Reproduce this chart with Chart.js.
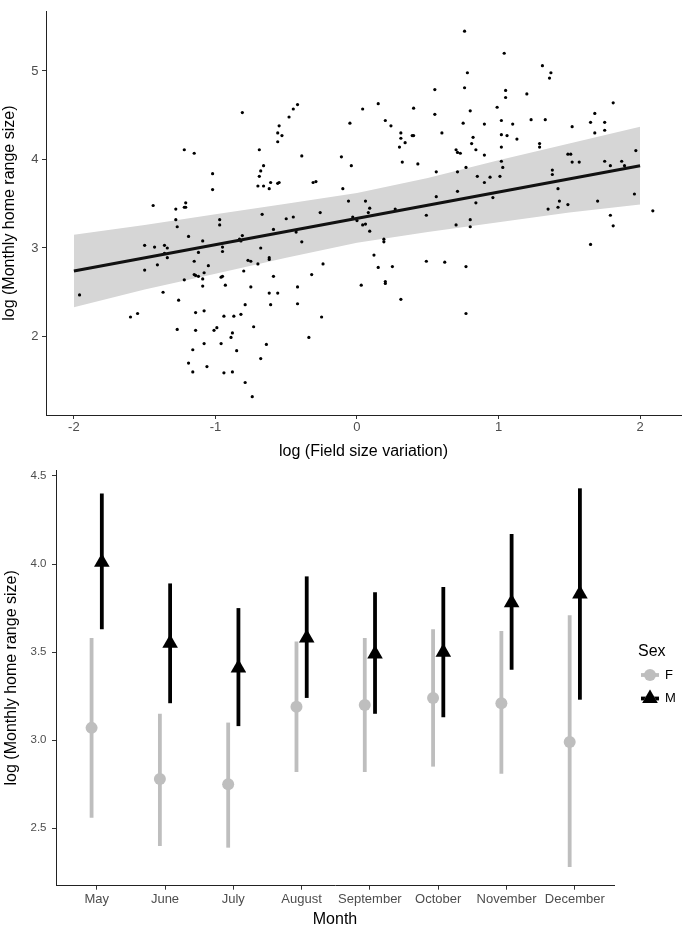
<!DOCTYPE html>
<html>
<head>
<meta charset="utf-8">
<script src="https://cdn.jsdelivr.net/npm/chart.js@4.4.1/dist/chart.umd.min.js"></script>
<style>
  html, body { margin:0; padding:0; background:#fff; overflow:hidden; }
  #wrap { position:relative; width:685px; height:927px; }
  canvas { position:absolute; left:0; }
  #top { top:0; }
  #bottom { top:440px; }
</style>
</head>
<body>
<div id="wrap">
  <canvas id="top" width="685" height="465"></canvas>
  <canvas id="bottom" width="685" height="489"></canvas>
</div>
<script>
'use strict';

// ── Panel A data: field size variation vs monthly home range ──────────────────
const fieldVar = [
  -1.22,-1.15,-1.02,-1.02,-1.44,-1.28,-1.22,-1.21,-1.21,
  -0.81,-0.69,-0.66,-0.68,-0.69,-0.70,-0.66,-0.62,-0.61,-0.56,
  -0.55,-0.56,-0.56,-0.53,-0.55,-0.48,-0.45,-0.42,-0.39,-0.31,
  -0.29,-0.26,-0.67,-0.11,-0.04,-0.05,-0.10,-0.06,0.04,0.15,
  0.06,0.09,0.08,0.20,0.24,0.31,0.31,0.34,0.30,0.39,
  0.40,0.40,0.32,0.43,0.27,0.49,0.55,0.55,0.60,0.56,
  0.56,0.70,0.71,0.71,0.71,
  0.76,1.04,0.78,0.76,1.05,1.05,1.31,1.37,1.36,1.20,
  0.99,0.80,0.75,0.90,1.02,1.10,1.23,1.33,0.82,0.81,
  0.84,1.02,1.06,1.13,1.02,0.90,0.73,1.02,1.03,0.77,
  0.85,0.94,1.01,0.90,0.96,0.84,1.29,1.29,1.52,1.65,
  1.68,1.68,1.75,1.75,1.81,1.49,1.51,1.52,1.57,1.75,
  1.79,1.87,1.89,1.97,1.38,1.38,1.42,1.43,1.42,1.49,
  1.35,1.70,1.96,2.09,1.79,
  0.70,0.80,0.80,1.81,1.65,0.62,0.77,0.77,
  -0.50,-0.45,-0.59,-0.43,-0.39,-0.83,-0.81,-0.95,-0.95,-0.68,
  -0.77,-0.75,-0.70,-0.62,-0.62,-0.80,-0.95,-0.96,-0.93,-0.75,
  -0.59,-0.32,-0.24,-0.42,-0.62,-0.56,-0.79,-0.61,-0.42,-0.94,
  -0.87,-0.82,-0.25,-0.73,-0.88,-0.89,-0.96,-0.85,-0.64,-0.34,
  -0.68,-0.94,-0.88,-0.79,-0.74,-0.03,0.00,0.04,0.06,0.09,
  0.19,0.19,0.12,0.15,0.25,0.20,0.20,0.03,0.31,0.49,
  -1.96,-1.50,-1.50,-1.43,-1.36,-1.34,-1.41,-1.34,-1.37,-1.60,
  -1.55,-1.28,-1.27,-1.19,-1.09,-1.15,-1.12,-1.05,-1.15,-1.12,
  -1.08,-1.09,-1.22,-1.09,-1.26,-0.97,-0.97,-1.14,-1.08,-1.27,
  -1.14,-1.01,-0.99,-1.08,-1.16,-1.19,-1.06,-1.16,-1.36,-1.14,
  -0.82
];
const homeRange = [
  4.11,4.07,3.84,3.66,3.48,3.44,3.46,3.46,3.51,
  4.53,4.11,3.93,3.87,3.81,3.70,3.70,3.67,3.74,3.73,
  3.74,4.20,4.30,4.27,4.38,4.48,4.57,4.62,4.04,3.74,
  3.75,3.40,3.38,4.03,3.93,4.41,3.67,3.53,4.57,4.63,
  3.53,3.45,3.40,4.44,4.38,4.30,4.24,4.19,4.14,4.27,
  4.27,4.58,3.97,3.95,3.44,3.37,4.79,4.51,4.30,3.86,
  3.58,4.11,4.08,3.86,3.64,
  5.45,5.20,4.98,4.81,4.78,4.70,5.06,4.98,4.92,4.74,
  4.59,4.55,4.41,4.40,4.44,4.40,4.45,4.45,4.25,4.18,
  4.11,4.28,4.27,4.23,4.14,4.05,4.07,3.98,3.91,3.91,
  3.81,3.80,3.81,3.74,3.57,3.51,4.18,4.14,4.37,4.42,
  4.52,4.30,4.42,4.33,4.64,4.06,4.06,3.97,3.97,3.98,
  3.93,3.98,3.93,4.10,3.88,3.83,3.67,3.53,3.46,3.49,
  3.44,3.53,3.61,3.42,3.37,
  3.26,3.32,3.24,3.25,3.04,2.84,2.79,2.26,
  3.33,3.35,3.21,3.18,3.07,3.10,3.14,3.01,2.96,3.00,
  2.86,2.85,2.82,2.89,2.87,2.74,2.68,2.67,2.58,2.56,
  2.68,2.70,2.82,2.56,2.49,2.49,2.36,2.36,2.37,2.23,
  2.23,2.25,2.22,2.11,2.04,1.99,1.92,1.84,1.91,1.99,
  1.75,1.59,1.60,1.48,1.32,3.35,3.31,3.26,3.27,3.19,
  3.10,3.07,2.92,2.78,2.79,2.62,2.60,2.58,2.42,2.85,
  2.47,3.03,2.75,3.01,3.03,3.00,2.81,2.89,2.50,2.22,
  2.26,3.32,3.24,3.13,3.08,2.85,2.95,2.80,2.70,2.68,
  2.72,2.65,2.64,2.57,2.41,3.32,3.26,2.27,2.29,2.08,
  2.07,2.07,2.10,1.92,1.85,1.70,1.66,1.60,2.94,2.69,
  3.08
];
const fitX = [-2, 2];
const fitY = [2.74, 3.93];
const bandX     = [-2, -1.5, -1, -0.5, 0, 0.5, 1, 1.5, 2];
const bandUpper = [3.15, 3.26, 3.38, 3.50, 3.62, 3.79, 3.99, 4.18, 4.37];
const bandLower = [2.33, 2.53, 2.71, 2.89, 3.06, 3.18, 3.29, 3.40, 3.49];
const topXTicks = [-2, -1, 0, 1, 2];
const topYTicks = [2, 3, 4, 5];

// ── Panel B data: monthly home range by sex ───────────────────────────────────
const months     = ['May','June','July','August','September','October','November','December'];
const femaleMean = [3.07, 2.78, 2.75, 3.19, 3.20, 3.24, 3.21, 2.99];
const femaleLow  = [2.56, 2.40, 2.39, 2.82, 2.82, 2.85, 2.81, 2.28];
const femaleHigh = [3.58, 3.15, 3.10, 3.56, 3.58, 3.63, 3.62, 3.71];
const maleMean   = [4.01, 3.55, 3.41, 3.58, 3.49, 3.50, 3.78, 3.83];
const maleLow    = [3.63, 3.21, 3.08, 3.24, 3.15, 3.13, 3.40, 3.23];
const maleHigh   = [4.40, 3.89, 3.75, 3.93, 3.84, 3.87, 4.17, 4.43];
const botYTicks  = [2.5, 3.0, 3.5, 4.0, 4.5];

const FEMALE = '#BEBEBE', MALE = '#000000';
const DODGE = 0.075;

Chart.defaults.font.family = '"Liberation Sans", Arial, sans-serif';
Chart.defaults.animation = false;

const axisGrid = { display:true, drawOnChartArea:false, drawTicks:true, tickLength:4, tickColor:'#333', color:'rgba(0,0,0,0)' };
const axisBorder = { display:true, color:'#222', width:1 };

// ── Top: scatter with fitted line ─────────────────────────────────────────────
new Chart(document.getElementById('top'), {
  type: 'scatter',
  data: {
    datasets: [
      { type:'line', data: fitX.map((x,i)=>({x, y:fitY[i]})), borderColor:'#111', borderWidth:3, pointRadius:0, fill:false },
      { data: fieldVar.map((x,i)=>({x, y:homeRange[i]})), pointRadius:1.6, backgroundColor:'#000', borderWidth:0 },
      { type:'line', data: bandX.map((x,i)=>({x, y:bandUpper[i]})), borderWidth:0, pointRadius:0, fill:'+1', backgroundColor:'rgb(214,214,214)' },
      { type:'line', data: bandX.map((x,i)=>({x, y:bandLower[i]})), borderWidth:0, pointRadius:0, fill:false }
    ]
  },
  options: {
    responsive:false, events:[],
    layout:{ padding:{ left:0, right:2, top:0, bottom:0 } },
    plugins:{ legend:{ display:false }, tooltip:{ enabled:false } },
    scales:{
      x:{ type:'linear', min:-2.197, max:2.289,
          afterBuildTicks: s => { s.ticks = topXTicks.map(v=>({value:v})); },
          afterFit: s => { s.height = 50; },
          ticks:{ color:'#4d4d4d', font:{size:13}, padding:1, maxRotation:0, autoSkip:false, callback: v => String(v) },
          grid: axisGrid, border: axisBorder,
          title:{ display:true, text:'log (Field size variation)', color:'#000', font:{size:16}, padding:{top:0, bottom:4} } },
      y:{ type:'linear', min:1.113, max:5.674,
          afterBuildTicks: s => { s.ticks = topYTicks.map(v=>({value:v})); },
          afterFit: s => { s.width = 46; },
          ticks:{ color:'#4d4d4d', font:{size:13}, padding:3.5, autoSkip:false, callback: v => String(v) },
          grid: axisGrid, border: axisBorder,
          title:{ display:true, text:'log (Monthly home range size)', color:'#000', font:{size:16}, padding:{top:0, bottom:0} } }
    }
  }
});

// ── Bottom: point ranges by month and sex ─────────────────────────────────────
const rangePlugin = {
  id:'ranges',
  beforeDatasetsDraw(chart) {
    const {ctx, scales:{x, y}} = chart;
    ctx.save();
    ctx.lineWidth = 3.8;
    ctx.lineCap = 'butt';
    months.forEach((m, i) => {
      [[i - DODGE, femaleLow[i], femaleHigh[i], FEMALE], [i + DODGE, maleLow[i], maleHigh[i], MALE]].forEach(([xv, lo, hi, col]) => {
        const px = x.getPixelForValue(xv);
        ctx.strokeStyle = col;
        ctx.beginPath();
        ctx.moveTo(px, y.getPixelForValue(lo));
        ctx.lineTo(px, y.getPixelForValue(hi));
        ctx.stroke();
      });
    });
    ctx.restore();
  }
};

const legendPlugin = {
  id:'sexLegend',
  afterDraw(chart) {
    const ctx = chart.ctx;
    const ff = Chart.defaults.font.family;
    ctx.save();
    ctx.fillStyle = '#000';
    ctx.textBaseline = 'middle';
    ctx.textAlign = 'left';
    ctx.font = '16px ' + ff;
    ctx.fillText('Sex', 638, 212);
    ctx.font = '13px ' + ff;
    ctx.fillText('F', 665, 235);
    ctx.fillText('M', 665, 258.5);
    // F key
    ctx.lineWidth = 3.8;
    ctx.strokeStyle = FEMALE;
    ctx.beginPath(); ctx.moveTo(641, 235); ctx.lineTo(659, 235); ctx.stroke();
    ctx.fillStyle = FEMALE;
    ctx.beginPath(); ctx.arc(650, 235, 6, 0, Math.PI*2); ctx.fill();
    // M key
    ctx.strokeStyle = MALE;
    ctx.beginPath(); ctx.moveTo(641, 258.5); ctx.lineTo(659, 258.5); ctx.stroke();
    Chart.helpers.drawPoint(ctx, { pointStyle:'triangle', radius:9, borderWidth:0, rotation:0 }, 650, 258.5);
    ctx.fillStyle = MALE;
    ctx.fill();
    ctx.restore();
  }
};

new Chart(document.getElementById('bottom'), {
  type: 'scatter',
  data: {
    datasets: [
      { label:'M', data: months.map((m,i)=>({x:i+DODGE, y:maleMean[i]})), pointStyle:'triangle', pointRadius:9, backgroundColor:MALE, borderWidth:0 },
      { label:'F', data: months.map((m,i)=>({x:i-DODGE, y:femaleMean[i]})), pointStyle:'circle', pointRadius:6, backgroundColor:FEMALE, borderWidth:0 }
    ]
  },
  plugins:[rangePlugin, legendPlugin],
  options: {
    responsive:false, events:[],
    layout:{ padding:{ left:0, right:71, top:30, bottom:0 } },
    plugins:{ legend:{ display:false }, tooltip:{ enabled:false } },
    scales:{
      x:{ type:'linear', min:-0.596, max:7.574,
          afterBuildTicks: s => { s.ticks = months.map((m,i)=>({value:i})); },
          afterFit: s => { s.height = 43.3; },
          ticks:{ color:'#4d4d4d', font:{size:13}, padding:2, maxRotation:0, autoSkip:false, callback: v => months[v] },
          grid: axisGrid, border: axisBorder,
          title:{ display:true, text:'Month', color:'#000', font:{size:16}, padding:{top:0, bottom:0} } },
      y:{ type:'linear', min:2.174, max:4.534,
          afterBuildTicks: s => { s.ticks = botYTicks.map(v=>({value:v})); },
          afterFit: s => { s.width = 56; },
          ticks:{ color:'#4d4d4d', font:{size:11.5}, padding:5.5, autoSkip:false, callback: v => v.toFixed(1) },
          grid: axisGrid, border: axisBorder,
          title:{ display:true, text:'log (Monthly home range size)', color:'#000', font:{size:16}, padding:{top:2, bottom:0} } }
    }
  }
});
</script>
</body>
</html>
